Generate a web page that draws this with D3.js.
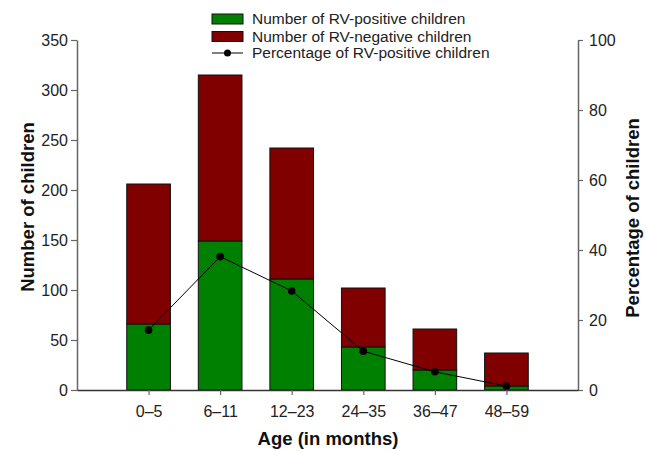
<!DOCTYPE html>
<html>
<head>
<meta charset="utf-8">
<script src="https://cdn.jsdelivr.net/npm/d3@7"></script>
<style>
  body { margin: 0; background: #fff; }
  text { font-family: "Liberation Sans", Arial, sans-serif; }
</style>
</head>
<body>
<div id="chart"></div>
<script>
const width = 646, height = 451;

// data
const ageGroups = ["0–5", "6–11", "12–23", "24–35", "36–47", "48–59"];
const positiveCounts = [66, 149, 111, 43, 20, 4];
const negativeCounts = [140, 166, 131, 59, 41, 33];
const positivePercent = [17.1, 38.1, 28.3, 11.1, 5.2, 1.1];
const leftTicks = [0, 50, 100, 150, 200, 250, 300, 350];
const rightTicks = [0, 20, 40, 60, 80, 100];

const legendLabels = ["Number of RV-positive children", "Number of RV-negative children", "Percentage of RV-positive children"];

const margin = {left: 77, right: 68, top: 40, bottom: 61};
const x0 = margin.left, x1 = width - margin.right;
const yBase = height - margin.bottom;

const green = "#008000", darkRed = "#800000", axisColor = "#666";

var svg = d3.select("#chart").append("svg")
    .attr("width", width)
    .attr("height", height);

var x = d3.scalePoint()
    .domain(ageGroups)
    .range([x0, x1])
    .padding(1);

var barW = x.step() * 0.61;

var yLeft = d3.scaleLinear().domain([0, 350]).range([yBase, margin.top]);
var yRight = d3.scaleLinear().domain([0, 100]).range([yBase, margin.top]);

// stacked bars
var rows = ageGroups.map(function(g, i) {
    return {age: g, pos: positiveCounts[i], neg: negativeCounts[i], pct: positivePercent[i]};
});

var bars = svg.append("g");
bars.selectAll("rect.pos")
    .data(rows).enter().append("rect")
    .attr("class", "pos")
    .attr("x", d => x(d.age) - barW / 2)
    .attr("width", barW)
    .attr("y", d => yLeft(d.pos))
    .attr("height", d => yLeft(0) - yLeft(d.pos))
    .style("fill", green)
    .style("stroke", "#111")
    .style("stroke-width", 1);

bars.selectAll("rect.neg")
    .data(rows).enter().append("rect")
    .attr("class", "neg")
    .attr("x", d => x(d.age) - barW / 2)
    .attr("width", barW)
    .attr("y", d => yLeft(d.pos + d.neg))
    .attr("height", d => yLeft(d.pos) - yLeft(d.pos + d.neg))
    .style("fill", darkRed)
    .style("stroke", "#111")
    .style("stroke-width", 1);

// percentage line
var line = d3.line()
    .x(d => x(d.age))
    .y(d => yRight(d.pct));

svg.append("path")
    .datum(rows)
    .attr("d", line)
    .style("fill", "none")
    .style("stroke", "#000")
    .style("stroke-width", 1);

svg.selectAll("circle.pt")
    .data(rows).enter().append("circle")
    .attr("class", "pt")
    .attr("cx", d => x(d.age))
    .attr("cy", d => yRight(d.pct))
    .attr("r", 3.8)
    .style("fill", "#000");

// axes
function styleAxis(g) {
    g.selectAll(".domain").style("stroke", axisColor).style("stroke-width", 1.5);
    g.selectAll(".tick line").style("stroke", axisColor).style("stroke-width", 1.2);
    g.selectAll(".tick text").style("fill", "#222").style("font-size", "16px")
        .style("font-family", "'Liberation Sans', Arial, sans-serif");
}

var gl = svg.append("g")
    .attr("transform", "translate(" + x0 + ",0)")
    .call(d3.axisLeft(yLeft).tickValues(leftTicks).tickSize(6).tickPadding(3).tickSizeOuter(0));
styleAxis(gl);

var gr = svg.append("g")
    .attr("transform", "translate(" + x1 + ",0)")
    .call(d3.axisRight(yRight).tickValues(rightTicks).tickSize(5).tickPadding(6).tickSizeOuter(0));
styleAxis(gr);

var gx = svg.append("g")
    .attr("transform", "translate(0," + yBase + ")")
    .call(d3.axisBottom(x).tickSize(5).tickPadding(11).tickSizeOuter(0));
styleAxis(gx);
gx.select(".domain").style("stroke", "#333");

// titles
svg.append("text")
    .attr("transform", "translate(34,207)rotate(-90)")
    .attr("text-anchor", "middle")
    .style("font-weight", "bold")
    .style("font-size", "18.5px")
    .style("fill", "#111")
    .text("Number of children");

svg.append("text")
    .attr("transform", "translate(639,218)rotate(-90)")
    .attr("text-anchor", "middle")
    .style("font-weight", "bold")
    .style("font-size", "18.5px")
    .style("fill", "#111")
    .text("Percentage of children");

svg.append("text")
    .attr("x", 328)
    .attr("y", 445)
    .attr("text-anchor", "middle")
    .style("font-weight", "bold")
    .style("font-size", "18.5px")
    .style("fill", "#111")
    .text("Age (in months)");

// legend
var legend = svg.append("g").attr("transform", "translate(212,0)");
var legendY = [19, 37, 53];

legend.append("rect").attr("x", 0).attr("y", 14).attr("width", 31).attr("height", 10)
    .style("fill", green).style("stroke", "#111");
legend.append("rect").attr("x", 0).attr("y", 31.5).attr("width", 31).attr("height", 10)
    .style("fill", darkRed).style("stroke", "#111");
legend.append("line").attr("x1", 0).attr("x2", 31).attr("y1", legendY[2]).attr("y2", legendY[2])
    .style("stroke", "#000");
legend.append("circle").attr("cx", 15.5).attr("cy", legendY[2]).attr("r", 3.5).style("fill", "#000");

legend.selectAll("text.lg")
    .data(legendLabels).enter().append("text")
    .attr("class", "lg")
    .attr("x", 40)
    .attr("y", (d, i) => legendY[i])
    .attr("dy", "0.35em")
    .style("font-size", "15.5px")
    .style("fill", "#222")
    .text(d => d);
</script>
</body>
</html>
